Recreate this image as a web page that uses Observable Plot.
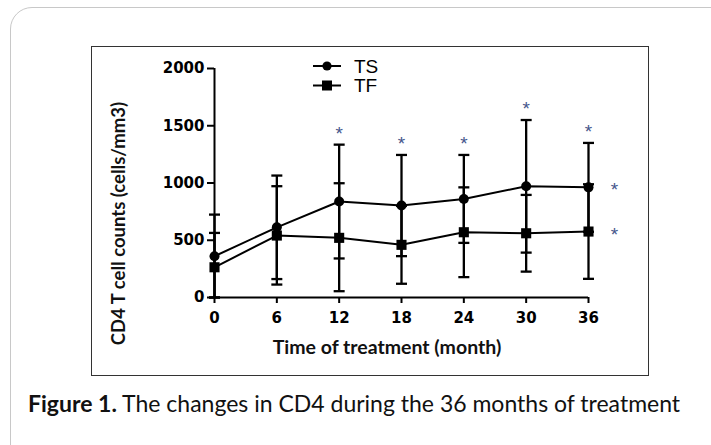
<!DOCTYPE html>
<html><head><meta charset="utf-8">
<script src="https://cdn.jsdelivr.net/npm/d3@7"></script>
<script src="https://cdn.jsdelivr.net/npm/@observablehq/plot@0.6"></script>
<style>
html,body{margin:0;padding:0;background:#fff;}
#wrap{position:relative;width:711px;height:445px;overflow:hidden;background:#fff;}
#outer{position:absolute;left:10px;top:7px;width:740px;height:470px;border:1px solid #c8c8c8;border-radius:22px;box-sizing:border-box;}
#inner{position:absolute;left:91px;top:46px;width:558px;height:330px;border:1.5px solid #333;box-sizing:border-box;}
#chart{position:absolute;left:0;top:0;}
#overlay{position:absolute;left:0;top:0;pointer-events:none;}
</style>
</head><body>
<div id="wrap"><div id="outer"></div><div id="inner"></div><div id="chart"></div>
<svg id="overlay" width="711" height="445"></svg></div>
<script>
// ---- data ----
const seriesNames = ["TS", "TF"];
const months = [0, 6, 12, 18, 24, 30, 36];
const tsMean = [360, 613, 838, 803, 861, 971, 962];
const tsLow  = [0, 161, 341, 361, 477, 392, 574];
const tsHigh = [724, 1065, 1335, 1245, 1245, 1550, 1350];
const tfMean = [264, 541, 521, 460, 570, 561, 576];
const tfLow  = [0, 113, 55, 120, 178, 226, 163];
const tfHigh = [564, 972, 998, 800, 962, 896, 989];
const yTicks = [0, 500, 1000, 1500, 2000];
const xTicks = [0, 6, 12, 18, 24, 30, 36];
const starMonths = [12, 18, 24, 30, 36];
const yLabel = "CD4 T cell counts (cells/mm3)";
const xLabel = "Time of treatment (month)";
const captionBold = "Figure 1.";
const captionText = " The changes in CD4 during the 36 months of treatment";

// ---- build rows ----
const tsRows = months.map((m, i) => ({month: m, series: seriesNames[0], mean: tsMean[i], low: tsLow[i], high: tsHigh[i]}));
const tfRows = months.map((m, i) => ({month: m, series: seriesNames[1], mean: tfMean[i], low: tfLow[i], high: tfHigh[i]}));
const rows = tsRows.concat(tfRows);
const starRows = tsRows.filter(d => starMonths.includes(d.month));
const lastRows = [tsRows[tsRows.length - 1], tfRows[tfRows.length - 1]];

const capSymbol = {draw(ctx) { ctx.moveTo(-5.5, 0); ctx.lineTo(5.5, 0); }};
const starStyle = {text: () => "*", fontSize: 19, fontWeight: "normal", fill: "#45568c", fontFamily: "Liberation Sans"};

const chart = Plot.plot({
  width: 711, height: 390,
  marginLeft: 214, marginRight: 123, marginTop: 68, marginBottom: 93,
  x: {domain: [0, 36]},
  y: {domain: [0, 2000]},
  style: {background: "transparent", color: "#000", overflow: "visible", fontFamily: "DejaVu Sans", fontSize: "15px", fontWeight: "bold"},
  marks: [
    Plot.ruleX(rows, {x: "month", y1: "low", y2: "high", stroke: "#000", strokeWidth: 2.3}),
    Plot.dot(rows, {x: "month", y: "low", symbol: capSymbol, fill: "none", stroke: "#000", strokeWidth: 2.3}),
    Plot.dot(rows, {x: "month", y: "high", symbol: capSymbol, fill: "none", stroke: "#000", strokeWidth: 2.3}),
    Plot.line(rows, {x: "month", y: "mean", z: "series", stroke: "#000", strokeWidth: 2}),
    Plot.dot(tsRows, {x: "month", y: "mean", r: 5, fill: "#000"}),
    Plot.dot(tfRows, {x: "month", y: "mean", symbol: "square", r: 5.7, fill: "#000"}),
    Plot.ruleX([0], {stroke: "#000", strokeWidth: 2}),
    Plot.ruleY([0], {stroke: "#000", strokeWidth: 2}),
    Plot.axisY(yTicks, {tickSize: 7, tickPadding: 3, strokeWidth: 2, label: null, tickFormat: d => String(d), fontSize: 15, fontWeight: "bold", fontFamily: "DejaVu Sans"}),
    Plot.axisX(xTicks, {tickSize: 6, tickPadding: 9, strokeWidth: 2, label: null, tickFormat: d => String(d), fontSize: 15, fontWeight: "bold", fontFamily: "DejaVu Sans"}),
    Plot.text(starRows, {x: "month", y: "high", dy: -11, ...starStyle}),
    Plot.text(lastRows, {x: "month", y: "mean", dx: 26, dy: 3, ...starStyle})
  ]
});
document.getElementById("chart").appendChild(chart);

// ---- axis titles, legend + caption overlay ----
const ov = d3.select("#overlay");
ov.append("text").attr("transform", "translate(118.5,223.5) rotate(-90)").attr("text-anchor", "middle").attr("dy", "0.35em")
  .attr("font-family", "Lato").attr("font-weight", "bold").attr("font-size", 18.5).attr("fill", "#111").text(yLabel);
ov.append("text").attr("x", 387).attr("y", 353.5).attr("text-anchor", "middle")
  .attr("font-family", "Lato").attr("font-weight", "bold").attr("font-size", 19.5).attr("fill", "#111").text(xLabel);
const legendRowsY = [66, 85.5];
seriesNames.forEach((name, i) => {
  const cy = legendRowsY[i];
  ov.append("line").attr("x1", 313).attr("x2", 341).attr("y1", cy).attr("y2", cy).attr("stroke", "#000").attr("stroke-width", 2);
  if (i === 0) ov.append("circle").attr("cx", 327).attr("cy", cy).attr("r", 4.6).attr("fill", "#000");
  else ov.append("rect").attr("x", 322).attr("y", cy - 5).attr("width", 10).attr("height", 10).attr("fill", "#000");
  ov.append("text").attr("x", 354).attr("y", cy + 6.8).attr("font-family", "Liberation Sans").attr("font-size", 19).attr("fill", "#000").text(name);
});
const cap = ov.append("text").attr("x", 28).attr("y", 412).attr("font-family", "Lato").attr("font-size", 23).attr("fill", "#111");
cap.append("tspan").attr("font-weight", "bold").text(captionBold);
cap.append("tspan").attr("xml:space", "preserve").text(captionText);
</script>
</body></html>
